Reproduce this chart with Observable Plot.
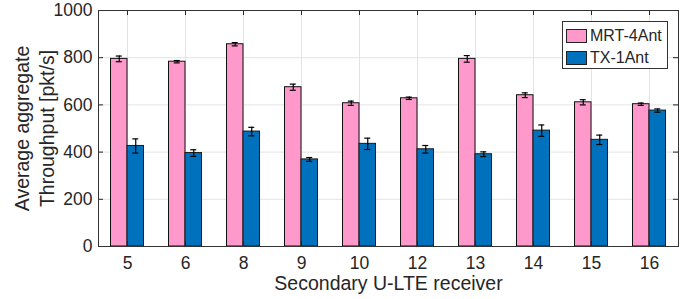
<!DOCTYPE html>
<html>
<head>
<meta charset="utf-8">
<script src="https://cdn.jsdelivr.net/npm/d3@7"></script>
<script src="https://cdn.jsdelivr.net/npm/@observablehq/plot@0.6"></script>
<style>
  html, body { margin: 0; padding: 0; background: #fff; }
  #wrap { position: relative; width: 686px; height: 299px; font-family: "Liberation Sans", Arial, Helvetica, sans-serif; }
  #legend { position: absolute; left: 562px; top: 20.5px; width: 106px; height: 48px; border: 1px solid #333; background: #fff; box-sizing: border-box; }
  .row { position: absolute; left: 3px; display: flex; align-items: center; font-size: 16px; color: #262626; }
  .sw { width: 21px; height: 14px; border: 1px solid #222; margin-right: 3px; box-sizing: border-box; }
</style>
</head>
<body>
<div id="wrap"></div>
<script>
const categories = ["5", "6", "8", "9", "10", "12", "13", "14", "15", "16"];
const mrtValues = [795, 783, 857, 675, 607, 628, 795, 641, 611, 603];
const mrtErrors = [12, 5, 7, 13, 9, 5, 14, 10, 11, 5];
const txValues  = [426, 396, 487, 369, 435, 412, 391, 491, 452, 576];
const txErrors  = [30, 14, 18, 8, 24, 16, 10, 24, 20, 7];
const yTicks = [0, 200, 400, 600, 800, 1000];
const seriesNames = ["MRT-4Ant", "TX-1Ant"];
const seriesColors = ["#FF99CC", "#0072BD"];

const rows = categories.map((c, i) => ({
  cat: c, mrt: mrtValues[i], mrtErr: mrtErrors[i], tx: txValues[i], txErr: txErrors[i]
}));

const W = 686, H = 299, mL = 98, mR = 8, mT = 10, mB = 53;
const pw = W - mL - mR, ph = H - mT - mB;
const band = pw / categories.length;
const barW = 16.5;
const off = barW / 2;
const capHalf = 3;
const ink = "#262626";
const gridC = "#e3e3e3";

const chart = Plot.plot({
  width: W, height: H,
  marginLeft: mL, marginRight: mR, marginTop: mT, marginBottom: mB,
  style: { fontFamily: "'Liberation Sans', Arial, Helvetica, sans-serif", color: ink, background: "#fff" },
  x: { type: "band", domain: categories, padding: 0, axis: null },
  y: { domain: [0, 1000], axis: null },
  marks: [
    Plot.ruleY(yTicks, { y: d => d, stroke: gridC, strokeWidth: 1 }),
    Plot.ruleX(categories, { x: d => d, stroke: gridC, strokeWidth: 1 }),
    Plot.barY(rows, { x: "cat", y: "mrt", fill: seriesColors[0], stroke: "#111", strokeWidth: 1,
      insetLeft: band / 2 - barW, insetRight: band / 2 }),
    Plot.barY(rows, { x: "cat", y: "tx", fill: seriesColors[1], stroke: "#1a1a1a", strokeWidth: 1,
      insetLeft: band / 2, insetRight: band / 2 - barW }),
    Plot.ruleX(rows, { x: "cat", y1: d => d.mrt - d.mrtErr, y2: d => d.mrt + d.mrtErr, dx: -off, stroke: "#000", strokeWidth: 1.2 }),
    Plot.ruleX(rows, { x: "cat", y1: d => d.tx - d.txErr, y2: d => d.tx + d.txErr, dx: off, stroke: "#000", strokeWidth: 1.2 }),
    Plot.tickY(rows, { x: "cat", y: d => d.mrt - d.mrtErr, stroke: "#000", strokeWidth: 1.2,
      insetLeft: band / 2 - off - capHalf, insetRight: band / 2 + off - capHalf }),
    Plot.tickY(rows, { x: "cat", y: d => d.mrt + d.mrtErr, stroke: "#000", strokeWidth: 1.2,
      insetLeft: band / 2 - off - capHalf, insetRight: band / 2 + off - capHalf }),
    Plot.tickY(rows, { x: "cat", y: d => d.tx - d.txErr, stroke: "#000", strokeWidth: 1.2,
      insetLeft: band / 2 + off - capHalf, insetRight: band / 2 - off - capHalf }),
    Plot.tickY(rows, { x: "cat", y: d => d.tx + d.txErr, stroke: "#000", strokeWidth: 1.2,
      insetLeft: band / 2 + off - capHalf, insetRight: band / 2 - off - capHalf }),
    // inward ticks
    Plot.ruleY(yTicks, { y: d => d, insetRight: pw - 5, stroke: ink }),
    Plot.ruleY(yTicks, { y: d => d, insetLeft: pw - 5, stroke: ink }),
    Plot.ruleX(categories, { x: d => d, insetTop: ph - 5, stroke: ink }),
    Plot.ruleX(categories, { x: d => d, insetBottom: ph - 5, stroke: ink }),
    Plot.frame({ stroke: "#333", strokeWidth: 1 }),
    Plot.axisY(yTicks, { tickSize: 0, tickPadding: 6, fontSize: 17.5, label: null, fill: ink, tickFormat: d3.format("d") }),
    Plot.axisX(categories, { tickSize: 0, tickPadding: 10, fontSize: 17.5, label: null, fill: ink }),
    Plot.text(["Secondary U-LTE receiver"], { frameAnchor: "bottom", dy: 36.8, lineAnchor: "middle",
      textAnchor: "middle", fontSize: 19.5, fill: ink }),
    Plot.text(["Average aggregate\nThroughput [pkt/s]"], { frameAnchor: "left", rotate: -90, dx: -64.7,
      lineAnchor: "middle", textAnchor: "middle", lineHeight: 1.28, fontSize: 19.5, fill: ink })
  ]
});

const wrap = document.getElementById("wrap");
wrap.appendChild(chart);

const legend = document.createElement("div");
legend.id = "legend";
seriesNames.forEach((name, i) => {
  const row = document.createElement("div");
  row.className = "row";
  row.style.top = (i === 0 ? 5.5 : 27.5) + "px";
  const sw = document.createElement("div");
  sw.className = "sw";
  sw.style.background = seriesColors[i];
  const t = document.createElement("span");
  t.textContent = name;
  row.appendChild(sw);
  row.appendChild(t);
  legend.appendChild(row);
});
wrap.appendChild(legend);
</script>
</body>
</html>
